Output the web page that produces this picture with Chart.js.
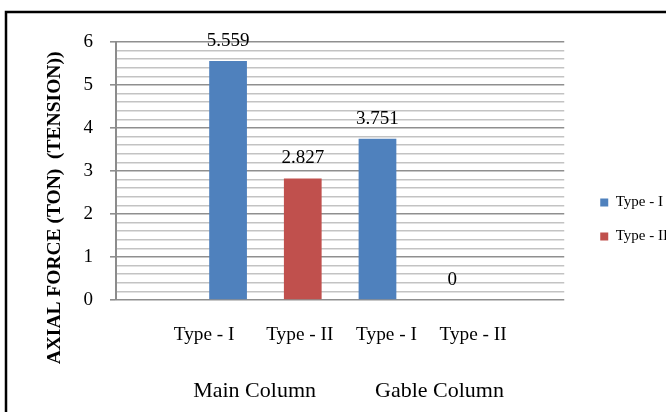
<!DOCTYPE html>
<html lang="en">
<head>
  <meta charset="UTF-8">
  <title>Axial force (tension)</title>
  <script src="https://cdn.jsdelivr.net/npm/chart.js"></script>
  <style>
    html, body { margin: 0; padding: 0; background: #fff; overflow: hidden; }
    canvas { display: block; }
  </style>
</head>
<body>
  <canvas id="axialChart" width="678" height="440"></canvas>

  <script>
    // one empty slot on each side, like the original sheet
    const categories = ['', 'Main Column / Type - I', 'Main Column / Type - II', 'Gable Column / Type - I', 'Gable Column / Type - II', ''];
    const typeOne = [null, 5.559, null, 3.751, null, null];
    const typeTwo = [null, null, 2.827, null, 0, null];
    const typeLabels = ['Type - I', 'Type - II', 'Type - I', 'Type - II'];
    const groupLabels = ['Main Column', 'Gable Column'];
    const yTitle = 'AXIAL FORCE (TON)  (TENSION))';

    const SERIF = "'Liberation Serif', 'Times New Roman', serif";
    Chart.defaults.font.family = SERIF;
    Chart.defaults.color = '#000';

    const isWhole = v => Math.abs(v - Math.round(v)) < 1e-6;

    // numbers over the bars
    const valueLabels = {
      id: 'valueLabels',
      afterDatasetsDraw(chart) {
        const ctx = chart.ctx;
        ctx.save();
        ctx.font = '19px ' + SERIF;
        ctx.fillStyle = '#000';
        ctx.textAlign = 'center';
        ctx.textBaseline = 'alphabetic';
        chart.data.datasets.forEach((ds, i) => {
          chart.getDatasetMeta(i).data.forEach((bar, j) => {
            const v = ds.data[j];
            if (v === null || v === undefined) return;
            ctx.fillText(String(v), bar.x, bar.y - 15);
          });
        });
        ctx.restore();
      }
    };

    // outer frame + rotated axis title
    const frame = {
      id: 'frame',
      afterDraw(chart) {
        const ctx = chart.ctx;
        const area = chart.chartArea;
        ctx.save();
        ctx.strokeStyle = '#000';
        ctx.lineWidth = 2.5;
        ctx.strokeRect(6, 12, chart.width, chart.height);

        ctx.translate(area.left - 61, (area.top + area.bottom) / 2 + 37);
        ctx.rotate(-Math.PI / 2);
        ctx.font = 'bold 19.5px ' + SERIF;
        ctx.fillStyle = '#000';
        ctx.textAlign = 'center';
        ctx.textBaseline = 'middle';
        ctx.fillText(yTitle, 0, 0);
        ctx.restore();
      }
    };

    new Chart(document.getElementById('axialChart'), {
      type: 'bar',
      data: {
        labels: categories,
        datasets: [
          { label: 'Type - I', data: typeOne, backgroundColor: '#4f81bd', xAxisID: 'x', yAxisID: 'y' },
          { label: 'Type - II', data: typeTwo, backgroundColor: '#c0504d', xAxisID: 'x', yAxisID: 'y' }
        ]
      },
      options: {
        responsive: false,
        animation: false,
        layout: { padding: { top: 42, bottom: 43, left: 0, right: 0 } },
        datasets: {
          bar: { grouped: false, categoryPercentage: 1, barPercentage: 0.505 }
        },
        plugins: {
          legend: {
            position: 'right',
            labels: {
              boxWidth: 8,
              boxHeight: 8,
              padding: 19,
              color: '#000',
              font: { size: 15, family: SERIF }
            }
          },
          tooltip: { enabled: false }
        },
        scales: {
          x: {
            type: 'category',
            display: false
          },
          y: {
            min: 0,
            max: 6,
            afterFit: s => { s.width = 116; },
            border: { color: '#8c8c8c', width: 2 },
            grid: {
              lineWidth: 1.6,
              tickLength: 6,
              color: c => isWhole(c.tick.value) ? '#8f8f8f' : '#c3c3c3',
              tickColor: c => isWhole(c.tick.value) ? '#8f8f8f' : 'rgba(0,0,0,0)'
            },
            ticks: {
              stepSize: 0.2,
              autoSkip: false,
              padding: 17,
              font: { size: 19 },
              callback: v => isWhole(v) ? Math.round(v) : ''
            }
          },
          xType: {
            type: 'linear',
            position: 'bottom',
            weight: 1,
            offset: false,
            min: 0,
            max: 6,
            grid: { display: false, drawTicks: false, offset: false },
            border: { display: false },
            afterBuildTicks: s => { s.ticks = [1.18, 2.46, 3.62, 4.78].map(value => ({ value })); },
            afterFit: s => { s.height = 60; },
            ticks: {
              autoSkip: false,
              maxRotation: 0,
              padding: 23,
              font: { size: 19.3 },
              callback: (v, i) => typeLabels[i]
            }
          },
          xGroup: {
            type: 'linear',
            position: 'bottom',
            weight: 2,
            offset: false,
            min: 0,
            max: 6,
            grid: { display: false, drawTicks: false, offset: false },
            border: { display: false },
            afterBuildTicks: s => { s.ticks = [1.855, 4.33].map(value => ({ value })); },
            afterFit: s => { s.height = 37; },
            ticks: {
              autoSkip: false,
              maxRotation: 0,
              padding: 18,
              font: { size: 22 },
              callback: (v, i) => groupLabels[i]
            }
          },
          gap: {
            type: 'linear',
            position: 'right',
            grid: { display: false },
            border: { display: false },
            ticks: { display: false },
            afterFit: s => { s.width = 17; }
          }
        }
      },
      plugins: [valueLabels, frame]
    });
  </script>
</body>
</html>
